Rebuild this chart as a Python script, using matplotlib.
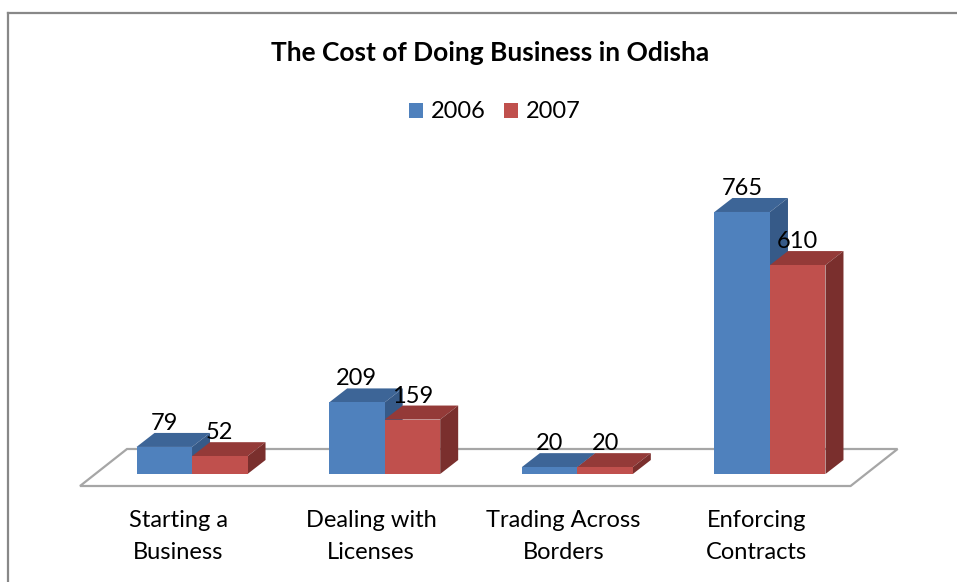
import matplotlib
matplotlib.use("Agg")
import matplotlib.pyplot as plt
from matplotlib.patches import Polygon
from matplotlib.lines import Line2D

categories = ["Starting a\nBusiness", "Dealing with\nLicenses", "Trading Across\nBorders", "Enforcing\nContracts"]
series_names = ["2006", "2007"]
values_2006 = [79, 209, 20, 765]
values_2007 = [52, 159, 20, 610]

FONT = ["Lato", "DejaVu Sans"]
plt.rcParams["font.family"] = FONT

W, H, DPI = 957, 582, 100
fig = plt.figure(figsize=(W / DPI, H / DPI), dpi=DPI)
fig.patch.set_facecolor("white")

# axes geometry in pixels (front plane of the bars)
x_left_px, x_right_px = 95.7, 866.3
y0_px_top = 474.0          # baseline, from top
px_per_val = 0.3425
ymax = 800
ax = fig.add_axes([x_left_px / W, (H - y0_px_top) / H,
                   (x_right_px - x_left_px) / W, ymax * px_per_val / H])
ax.set_xlim(-0.5, 3.5)
ax.set_ylim(0, ymax)
ax.axis("off")

px_per_x = (x_right_px - x_left_px) / 4.0
def dx(px):
    return px / px_per_x
def dy(px):
    return px / px_per_val

# floor
flo_front = (-15.7, -12.0)
flo_back = (31.3, 25.0)
floor = Polygon([(-0.5 + dx(flo_front[0]), dy(flo_front[1])),
                 (3.5 + dx(flo_front[0]), dy(flo_front[1])),
                 (3.5 + dx(flo_back[0]), dy(flo_back[1])),
                 (-0.5 + dx(flo_back[0]), dy(flo_back[1]))],
                closed=True, facecolor="white", edgecolor="#A6A6A6",
                linewidth=1.6, clip_on=False, zorder=1)
ax.add_patch(floor)

bar_w = 55.5 / px_per_x
depth = (18.0, 14.0)
ddx, ddy = dx(depth[0]), dy(depth[1])

colors = {"2006": ("#4F81BD", "#3D6597", "#365A88"),
          "2007": ("#C0504D", "#943A38", "#7A2F2D")}

for si, (name, vals) in enumerate(zip(series_names, [values_2006, values_2007])):
    front_c, top_c, side_c = colors[name]
    for i, v in enumerate(vals):
        x0 = i - bar_w + si * bar_w
        x1 = x0 + bar_w
        z = 2 + si * 2
        ax.bar(x0, v, width=bar_w, align="edge", color=front_c,
               linewidth=0, zorder=z + 0.5, clip_on=False)
        ax.add_patch(Polygon([(x0, v), (x1, v), (x1 + ddx, v + ddy), (x0 + ddx, v + ddy)],
                             closed=True, facecolor=top_c, edgecolor="none",
                             zorder=z, clip_on=False))
        ax.add_patch(Polygon([(x1, 0), (x1 + ddx, ddy), (x1 + ddx, v + ddy), (x1, v)],
                             closed=True, facecolor=side_c, edgecolor="none",
                             zorder=z, clip_on=False))
        ax.annotate(str(v), xy=((x0 + x1) / 2, v + ddy), xytext=(0, 3 * 72 / DPI),
                    textcoords="offset points", ha="center", va="baseline",
                    fontsize=17, color="black", zorder=10, annotation_clip=False)

# category labels
for i, c in enumerate(categories):
    fig.text((x_left_px + px_per_x * (i + 0.5) - 15.7 + 2) / W, 1 - 536.5 / H, c,
             ha="center", va="center", fontsize=17, linespacing=1.62, color="black")

# title
fig.text(490 / W, 1 - 53 / H, "The Cost of Doing Business in Odisha",
         ha="center", va="center", fontsize=19, fontweight="bold", color="black")

# legend
handles = [plt.Rectangle((0, 0), 1, 1, facecolor=colors[n][0], edgecolor="none") for n in series_names]
fig.legend(handles, series_names, loc="center", bbox_to_anchor=(495 / W, 1 - 112 / H),
           ncol=2, frameon=False, fontsize=17, handlelength=0.6, handleheight=0.6,
           handletextpad=0.35, columnspacing=0.75, borderpad=0)

# outer frame
fig.add_artist(Line2D([8 / W, 1.0], [1 - 13 / H, 1 - 13 / H], color="#888888", linewidth=1.6))
fig.add_artist(Line2D([8 / W, 8 / W], [0, 1 - 13 / H], color="#888888", linewidth=1.6))

fig.savefig("out.png", dpi=DPI, facecolor="white")
